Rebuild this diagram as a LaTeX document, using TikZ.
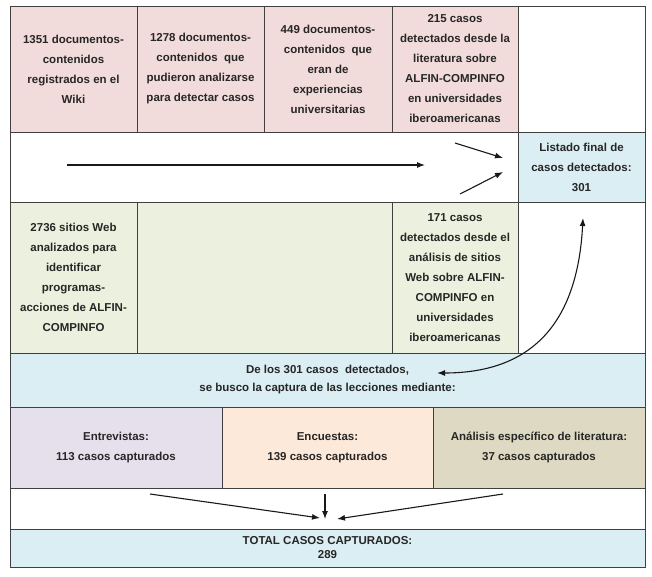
\documentclass[tikz,border=0pt]{standalone}
\usepackage{fontspec}
\setmainfont{Liberation Sans}
\usetikzlibrary{arrows.meta, positioning}

\definecolor{cellpink}{HTML}{F2DCDB}
\definecolor{cellgreen}{HTML}{EBF1DE}
\definecolor{cellblue}{HTML}{DBEEF3}
\definecolor{celllilac}{HTML}{E5E0EC}
\definecolor{cellpeach}{HTML}{FDE9D9}
\definecolor{cellkhaki}{HTML}{DDD9C3}

\begin{document}
\begin{tikzpicture}[x=1pt, y=1pt, >={Latex[length=8pt,width=6pt]},
    cell/.style={draw=black!75, line width=0.8pt, rectangle, outer sep=0pt, inner sep=2pt, align=center, text=black!85, font=\bfseries\fontsize{11.5}{20}\selectfont},
    link/.style={->, line width=1.1pt, black!90}]
    \useasboundingbox (0,0) rectangle (652,-576);

    % Row 1: documents and literature
    \node[cell, fill=cellpink, anchor=north west, minimum width=127pt, minimum height=126pt] (wiki) at (10,-6) {1351 documentos-\\contenidos\\registrados en el\\Wiki};
    \node[cell, fill=cellpink, minimum width=127pt, minimum height=126pt, right=0pt of wiki] (analysed) {1278 documentos-\\contenidos\ \ que\\pudieron analizarse\\para detectar casos};
    \node[cell, fill=cellpink, minimum width=128pt, minimum height=126pt, right=0pt of analysed] (univ) {449 documentos-\\contenidos\ \ que\\eran de\\experiencias\\universitarias};
    \node[cell, fill=cellpink, minimum width=126pt, minimum height=126pt, right=0pt of univ] (litcases) {215 casos\\detectados desde la\\literatura sobre\\ALFIN-COMPINFO\\en universidades\\iberoamericanas};
    \node[cell, minimum width=127pt, minimum height=126pt, right=0pt of litcases] (topblank) {};

    % Row 2: final list
    \node[cell, anchor=north west, minimum width=508pt, minimum height=70pt] (flow) at (wiki.south west) {};
    \node[cell, fill=cellblue, minimum width=127pt, minimum height=70pt, right=0pt of flow] (final) {Listado final de\\casos detectados:\\301};

    % Row 3: web sites
    \node[cell, fill=cellgreen, anchor=north west, minimum width=127pt, minimum height=151pt] (sites) at (flow.south west) {2736 sitios Web\\analizados para\\identificar\\programas-\\acciones de ALFIN-\\COMPINFO};
    \node[cell, fill=cellgreen, minimum width=255pt, minimum height=151pt, right=0pt of sites] (webgap) {};
    \node[cell, fill=cellgreen, minimum width=126pt, minimum height=151pt, right=0pt of webgap] (webcases) {171 casos\\detectados desde el\\análisis de sitios\\Web sobre ALFIN-\\COMPINFO en\\universidades\\iberoamericanas};
    \node[cell, minimum width=127pt, minimum height=151pt, right=0pt of webcases] (webblank) {};

    % Row 4: capture of lessons
    \node[cell, fill=cellblue, anchor=north west, minimum width=635pt, minimum height=54pt, font=\bfseries\fontsize{11.5}{18}\selectfont] (capture) at (sites.south west) {De los 301 casos\ \ detectados,\\se busco la captura de las lecciones mediante:};

    % Row 5: capture methods
    \node[cell, fill=celllilac, anchor=north west, minimum width=212pt, minimum height=81pt] (interviews) at (capture.south west) {Entrevistas:\\113 casos capturados};
    \node[cell, fill=cellpeach, minimum width=211pt, minimum height=81pt, right=0pt of interviews] (surveys) {Encuestas:\\139 casos capturados};
    \node[cell, fill=cellkhaki, minimum width=212pt, minimum height=81pt, right=0pt of surveys] (litreview) {Análisis específico de literatura:\\37 casos capturados};

    % Row 6 and 7: total
    \node[cell, anchor=north west, minimum width=635pt, minimum height=41pt] (gather) at (interviews.south west) {};
    \node[cell, fill=cellblue, anchor=north west, minimum width=635pt, minimum height=38pt, font=\bfseries\fontsize{11.5}{14}\selectfont] (total) at (gather.south west) {TOTAL CASOS CAPTURADOS:\\289};

    % Arrow ends
    \coordinate (flowstart) at (67,-165);
    \coordinate (flowend) at (425,-165);
    \coordinate (upstart) at (455,-143);
    \coordinate (upend) at (503,-158);
    \coordinate (lowstart) at (460,-194);
    \coordinate (lowend) at (503,-172);
    \coordinate (finaltip) at (583,-218);
    \coordinate (capturetip) at (437,-373);
    \coordinate (leftstart) at (150,-494);
    \coordinate (leftend) at (320,-518);
    \coordinate (midstart) at (325,-494);
    \coordinate (midend) at (325,-519);
    \coordinate (rightstart) at (503,-494);
    \coordinate (rightend) at (337,-519);

    % Arrows
    \draw[link] (flowstart) -- (flowend);
    \draw[link] (upstart) -- (upend);
    \draw[link] (lowstart) -- (lowend);
    \draw[link, <->] (capturetip) to[out=0, in=-93, looseness=1.2] (finaltip);
    \draw[link] (leftstart) -- (leftend);
    \draw[link] (midstart) -- (midend);
    \draw[link] (rightstart) -- (rightend);
  \end{tikzpicture}
\end{document}
